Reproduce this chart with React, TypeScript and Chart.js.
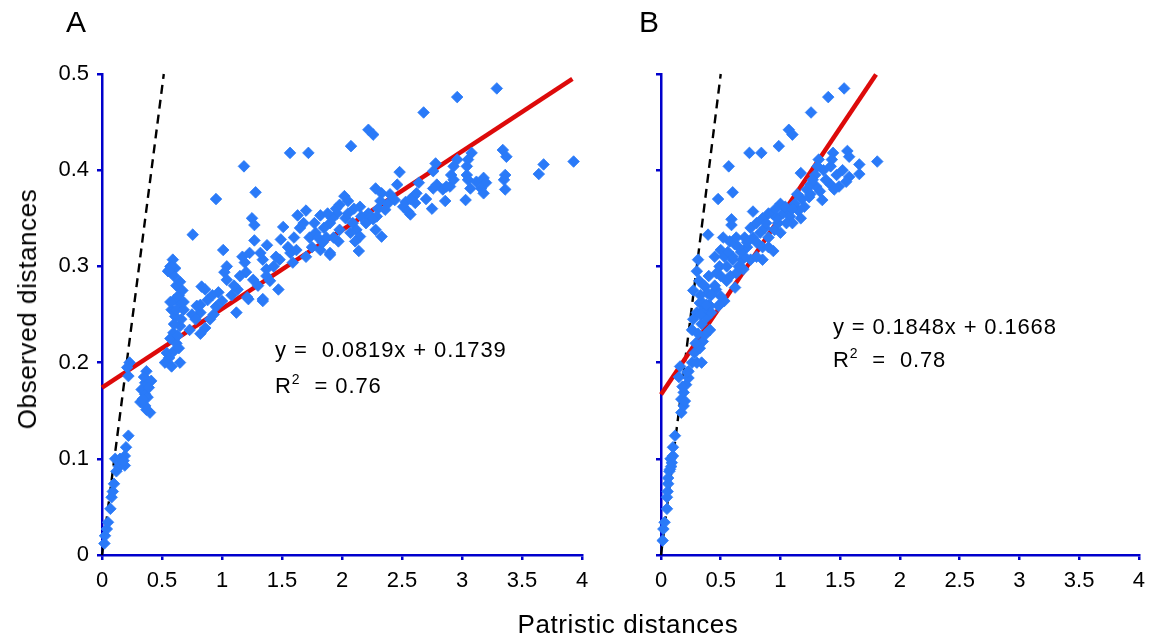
import React, { useEffect, useRef } from "react";
import { Chart, registerables } from "chart.js";

Chart.register(...registerables);

// ---------- data ----------
const xTicks = [0, 0.5, 1, 1.5, 2, 2.5, 3, 3.5, 4];
const yTicks = [0, 0.1, 0.2, 0.3, 0.4, 0.5];

// Panel A: patristic (x) vs observed (y)
const aX = [
  0.02, 0.025, 0.04, 0.05, 0.07, 0.08, 0.09, 0.1, 0.12, 0.11, 0.14, 0.16, 0.19, 0.19, 0.2, 0.22, 0.15, 0.18,
  0.22, 0.23, 0.21,
  0.37, 0.36, 0.41, 0.33, 0.36, 0.38, 0.32, 0.36, 0.4, 0.37, 0.34, 0.39, 0.35,
  0.525, 0.58, 0.65, 0.54, 0.62, 0.595, 0.65, 0.61, 0.58, 0.65, 0.73, 0.56, 0.6, 0.64, 0.57, 0.63, 0.6, 0.66, 0.62, 0.6, 0.64, 0.57, 0.68, 0.62, 0.65, 0.67, 0.68, 0.55, 0.57, 0.59, 0.61, 0.6, 0.58, 0.56,
  0.82, 0.86, 0.9, 0.93, 0.82, 0.79, 0.83, 0.86, 0.82, 0.97, 1.0, 0.756, 0.95, 0.75, 0.78, 0.88, 0.92, 0.95,
  1.12, 1.22, 1.34, 1.04, 1.02, 1.19, 1.2, 1.34, 1.37, 1.37, 1.43, 1.48, 1.13, 1.26, 1.04, 1.47, 1.34, 1.21, 1.01, 1.23, 1.32, 1.25, 1.27, 1.27, 1.375, 1.49, 1.51, 1.183, 1.28, 1.1, 1.15, 1.08, 1.3, 1.4, 1.45, 1.17,
  1.567, 1.72, 1.63, 1.7, 1.82, 1.96, 1.65, 1.68, 1.57, 1.62, 1.59, 1.73, 1.78, 1.85, 1.9, 1.98, 1.9, 1.82, 1.84, 1.9, 1.97, 1.75, 1.7, 1.8, 1.87, 1.93, 1.77, 1.6, 1.55, 1.92, 1.88, 1.95,
  2.075, 2.22, 2.26, 2.02, 2.05, 1.98, 2.15, 2.16, 2.22, 2.23, 2.09, 2.12, 2.15, 2.11, 2.07, 2.28, 2.33, 2.14, 2.28, 2.33, 2.32, 2.3, 2.36, 2.29, 2.26, 2.46, 2.44, 2.48, 2.03, 2.2, 2.38, 2.4, 2.1, 2.05,
  2.51, 2.55, 2.57, 2.53, 2.64, 2.62, 2.6, 2.61, 2.75, 2.68, 2.78, 2.76, 2.79, 2.76, 2.84, 2.86, 2.9, 2.96, 2.93, 2.91, 2.93, 2.87, 2.96, 2.57, 2.7,
  3.04, 3.05, 3.08, 3.04, 3.05, 3.07, 3.12, 3.18, 3.2, 3.16, 3.18, 3.03, 3.29, 3.34, 3.37, 3.36, 3.36, 3.68, 3.64, 3.93, 3.35,
];
const aY = [
  0.012, 0.02, 0.027, 0.034, 0.048, 0.06, 0.066, 0.074, 0.087, 0.1, 0.092, 0.094, 0.093, 0.103, 0.112, 0.124, 0.1, 0.098,
  0.186, 0.2, 0.195,
  0.191, 0.179, 0.181, 0.172, 0.167, 0.164, 0.159, 0.155, 0.148, 0.151, 0.162, 0.174, 0.185,
  0.2, 0.196, 0.2, 0.21, 0.22, 0.231, 0.238, 0.248, 0.255, 0.262, 0.234, 0.205, 0.212, 0.215, 0.225, 0.228, 0.24, 0.245, 0.255, 0.265, 0.27, 0.263, 0.255, 0.28, 0.284, 0.275, 0.263, 0.295, 0.3, 0.307, 0.298, 0.29, 0.3, 0.296,
  0.23, 0.236, 0.245, 0.25, 0.252, 0.259, 0.279, 0.276, 0.26, 0.273, 0.264, 0.333, 0.37, 0.25, 0.245, 0.265, 0.27, 0.258,
  0.252, 0.266, 0.264, 0.3, 0.294, 0.304, 0.294, 0.307, 0.297, 0.29, 0.3, 0.307, 0.276, 0.286, 0.286, 0.276, 0.266, 0.268, 0.317, 0.314, 0.314, 0.35, 0.343, 0.327, 0.322, 0.328, 0.341, 0.404, 0.377, 0.28, 0.29, 0.27, 0.28, 0.285, 0.31, 0.31,
  0.418, 0.418, 0.353, 0.358, 0.353, 0.355, 0.34, 0.345, 0.314, 0.317, 0.304, 0.33, 0.335, 0.34, 0.345, 0.338, 0.314, 0.317, 0.325, 0.312, 0.326, 0.32, 0.31, 0.33, 0.33, 0.33, 0.345, 0.33, 0.32, 0.35, 0.355, 0.36,
  0.425, 0.442, 0.437, 0.373, 0.368, 0.364, 0.362, 0.352, 0.355, 0.35, 0.345, 0.338, 0.331, 0.326, 0.335, 0.338, 0.331, 0.316, 0.381, 0.376, 0.368, 0.36, 0.359, 0.352, 0.349, 0.385, 0.369, 0.398, 0.35, 0.345, 0.365, 0.375, 0.36, 0.355,
  0.362, 0.357, 0.354, 0.367, 0.387, 0.376, 0.373, 0.366, 0.36, 0.46, 0.407, 0.399, 0.385, 0.381, 0.38, 0.368, 0.383, 0.411, 0.404, 0.395, 0.39, 0.383, 0.476, 0.37, 0.37,
  0.404, 0.411, 0.418, 0.395, 0.39, 0.381, 0.388, 0.392, 0.387, 0.381, 0.376, 0.369, 0.485, 0.421, 0.414, 0.395, 0.38, 0.406, 0.396, 0.409, 0.39,
];

// Panel B
const bX = [
  0.014, 0.02, 0.03, 0.05, 0.05, 0.055, 0.06, 0.075, 0.09, 0.1, 0.1, 0.117, 0.07, 0.08, 0.085, 0.06,
  0.17, 0.19, 0.17, 0.19, 0.21, 0.23, 0.16, 0.15, 0.2, 0.18, 0.22,
  0.23, 0.26, 0.28, 0.34, 0.325, 0.35, 0.37, 0.41, 0.34, 0.38, 0.42, 0.48, 0.53, 0.26, 0.3, 0.325, 0.29, 0.31, 0.36, 0.4, 0.27, 0.33, 0.3,
  0.35, 0.41, 0.49, 0.37, 0.39, 0.46, 0.5, 0.62, 0.49, 0.465, 0.63, 0.69, 0.6, 0.68, 0.75, 0.85, 0.5, 0.53, 0.31, 0.3, 0.394, 0.575, 0.617, 0.94, 0.59, 0.59, 0.77, 0.478, 0.6, 0.567, 0.74, 0.84, 0.986, 1.07, 1.1, 1.256, 1.4, 1.533,
  0.77, 0.8, 0.83, 0.87, 0.9, 0.95, 0.98, 1.0, 0.85, 0.72, 0.7, 0.65, 0.55, 0.58, 0.67, 0.8, 0.9,
  0.97, 1.02, 1.05, 1.08, 1.12, 1.15, 1.18, 1.2, 1.24, 1.1, 1.05, 0.93, 1.14, 1.22, 1.0, 1.17,
  1.81, 1.66, 1.66, 1.56, 1.575, 1.44, 1.43, 1.42, 1.32, 1.31, 1.29, 1.17, 1.575, 1.55, 1.49, 1.42, 1.45, 1.35, 1.3, 1.33, 1.25, 1.27, 1.38, 1.47, 1.52, 1.36, 1.25,
  0.45, 0.5, 0.55, 0.6, 0.65, 0.7, 0.75, 0.8, 0.85, 0.9, 0.42, 0.38, 0.33, 0.4, 0.45, 0.52, 0.56, 0.63, 0.72, 0.88, 0.96, 1.04, 1.1, 0.27, 0.32, 0.36,
];
const bY = [
  0.015, 0.027, 0.034, 0.048, 0.06, 0.066, 0.074, 0.089, 0.096, 0.103, 0.112, 0.124, 0.087, 0.1, 0.092, 0.08,
  0.148, 0.155, 0.162, 0.169, 0.177, 0.184, 0.196, 0.185, 0.16, 0.175, 0.19,
  0.191, 0.2, 0.21, 0.2, 0.215, 0.222, 0.229, 0.234, 0.24, 0.247, 0.252, 0.259, 0.264, 0.234, 0.252, 0.262, 0.22, 0.23, 0.255, 0.26, 0.245, 0.25, 0.2,
  0.262, 0.259, 0.26, 0.279, 0.272, 0.276, 0.269, 0.278, 0.3, 0.293, 0.293, 0.297, 0.307, 0.307, 0.307, 0.307, 0.317, 0.31, 0.307, 0.295, 0.333, 0.326, 0.323, 0.316, 0.349, 0.343, 0.357, 0.37, 0.377, 0.404, 0.418, 0.418, 0.425, 0.442, 0.437, 0.46, 0.476, 0.485,
  0.33, 0.325, 0.335, 0.34, 0.33, 0.338, 0.345, 0.335, 0.32, 0.32, 0.31, 0.3, 0.285, 0.29, 0.315, 0.31, 0.32,
  0.35, 0.355, 0.36, 0.352, 0.365, 0.358, 0.37, 0.362, 0.372, 0.345, 0.345, 0.355, 0.375, 0.38, 0.365, 0.35,
  0.409, 0.406, 0.396, 0.42, 0.414, 0.418, 0.411, 0.404, 0.411, 0.404, 0.395, 0.397, 0.393, 0.388, 0.383, 0.385, 0.38, 0.369, 0.383, 0.378, 0.385, 0.39, 0.39, 0.395, 0.4, 0.4, 0.375,
  0.28, 0.29, 0.3, 0.31, 0.32, 0.33, 0.34, 0.345, 0.35, 0.355, 0.27, 0.26, 0.27, 0.29, 0.31, 0.33, 0.315, 0.33, 0.325, 0.345, 0.36, 0.362, 0.36, 0.275, 0.285, 0.28,
];

// regression lines and y = x reference
const aFitX = [0, 3.92];
const aFitY = [0.1739, 0.0819 * 3.92 + 0.1739];
const bFitX = [0, 1.8];
const bFitY = [0.1668, 0.1848 * 1.8 + 0.1668];
const aDashX = [0, 0.515];
const aDashY = [0, 0.5];
const bDashX = [0, 0.5];
const bDashY = [0, 0.5];

// ---------- styling ----------
const BLUE = "#0000cc";
const POINT = "#2a7af8";
const RED = "#dd0a0a";
const FONT = '"Liberation Sans", Arial, Helvetica, sans-serif';
const TOP = 74;
const BOTTOM = 555;
const H = 644;

const zip = (xs: number[], ys: number[]) => xs.map((x, i) => ({ x, y: ys[i] }));

function makeConfig(
  px: number[], py: number[], fx: number[], fy: number[], dx: number[], dy: number[],
  leftW: number, rightPad: number, showYLabels: boolean
): any {
  return {
    type: "scatter",
    data: {
      datasets: [
        {
          data: zip(px, py),
          pointStyle: "rectRot",
          pointRadius: 5.8,
          pointBackgroundColor: POINT,
          pointBorderColor: POINT,
          pointBorderWidth: 0.8,
          showLine: false,
          clip: false,
        },
        {
          data: zip(fx, fy),
          showLine: true,
          borderColor: RED,
          borderWidth: 4.5,
          pointRadius: 0,
          clip: false,
        },
        {
          data: zip(dx, dy),
          showLine: true,
          borderColor: "#000000",
          borderWidth: 2.4,
          borderDash: [9, 6],
          pointRadius: 0,
          clip: false,
        },
      ],
    },
    options: {
      animation: false,
      responsive: false,
      maintainAspectRatio: false,
      events: [],
      layout: { padding: { top: TOP, right: rightPad, left: 0, bottom: 0 } },
      plugins: { legend: { display: false }, tooltip: { enabled: false }, title: { display: false } },
      scales: {
        x: {
          type: "linear",
          min: 0,
          max: 4,
          afterBuildTicks: (s: any) => { s.ticks = xTicks.map((v) => ({ value: v })); },
          ticks: {
            color: "#000",
            font: { family: FONT, size: 22 },
            padding: 8,
            maxRotation: 0,
            autoSkip: false,
            callback: (v: any) => String(v),
          },
          grid: { display: true, drawOnChartArea: false, drawTicks: true, tickLength: 5, color: BLUE, lineWidth: 2.5 },
          border: { display: true, color: BLUE, width: 2.5 },
          afterFit: (s: any) => { s.height = H - BOTTOM; },
        },
        y: {
          type: "linear",
          min: 0,
          max: 0.5,
          afterBuildTicks: (s: any) => { s.ticks = yTicks.map((v) => ({ value: v })); },
          ticks: {
            color: "#000",
            font: { family: FONT, size: 22 },
            padding: 8,
            autoSkip: false,
            callback: (v: any) => (showYLabels ? String(v) : ""),
          },
          grid: { display: true, drawOnChartArea: false, drawTicks: true, tickLength: 5, color: BLUE, lineWidth: 2.5 },
          border: { display: true, color: BLUE, width: 2.5 },
          afterFit: (s: any) => { s.width = leftW; },
        },
      },
    },
  };
}

function Panel(props: { left: number; width: number; cfg: any }) {
  const ref = useRef<HTMLCanvasElement | null>(null);
  useEffect(() => {
    if (!ref.current) return;
    const chart = new Chart(ref.current, props.cfg);
    return () => chart.destroy();
  }, []);
  return (
    <canvas
      ref={ref}
      width={props.width}
      height={H}
      style={{ position: "absolute", left: props.left, top: 0, width: props.width, height: H }}
    />
  );
}

const txt = (extra: React.CSSProperties): React.CSSProperties => ({
  position: "absolute",
  fontFamily: FONT,
  color: "#000",
  whiteSpace: "pre",
  lineHeight: 1,
  ...extra,
});

const supStyle: React.CSSProperties = { fontSize: 14, verticalAlign: 0, position: "relative", top: -9 };

export default function App() {
  const cfgA = makeConfig(aX, aY, aFitX, aFitY, aDashX, aDashY, 102, 600 - 582, true);
  const cfgB = makeConfig(bX, bY, bFitX, bFitY, bDashX, bDashY, 61, 553 - 541, false);
  return (
    <div style={{ position: "absolute", left: 0, top: 0, width: 1153, height: 644, background: "#fff", overflow: "hidden" }}>
      <Panel left={0} width={600} cfg={cfgA} />
      <Panel left={600} width={553} cfg={cfgB} />
      <div style={txt({ left: 66, top: 7, fontSize: 30 })}>A</div>
      <div style={txt({ left: 639, top: 7, fontSize: 30 })}>B</div>
      <div
        style={txt({
          left: 27,
          top: 309,
          fontSize: 26,
          letterSpacing: "0.6px",
          transform: "translate(-50%, -50%) rotate(-90deg)",
        })}
      >
        Observed distances
      </div>
      <div style={txt({ left: 628, top: 624, fontSize: 26, letterSpacing: "0.6px", transform: "translate(-50%, -50%)" })}>
        Patristic distances
      </div>
      <div style={txt({ left: 275, top: 339, fontSize: 22, letterSpacing: "0.9px" })}>{"y =  0.0819x + 0.1739"}</div>
      <div style={txt({ left: 275, top: 375, fontSize: 22, letterSpacing: "0.9px" })}>
        R<sup style={supStyle}>2</sup>{"  = 0.76"}
      </div>
      <div style={txt({ left: 833, top: 316, fontSize: 22, letterSpacing: "0.85px" })}>{"y = 0.1848x + 0.1668"}</div>
      <div style={txt({ left: 833, top: 349, fontSize: 22, letterSpacing: "0.85px" })}>
        R<sup style={supStyle}>2</sup>{"  =  0.78"}
      </div>
    </div>
  );
}
